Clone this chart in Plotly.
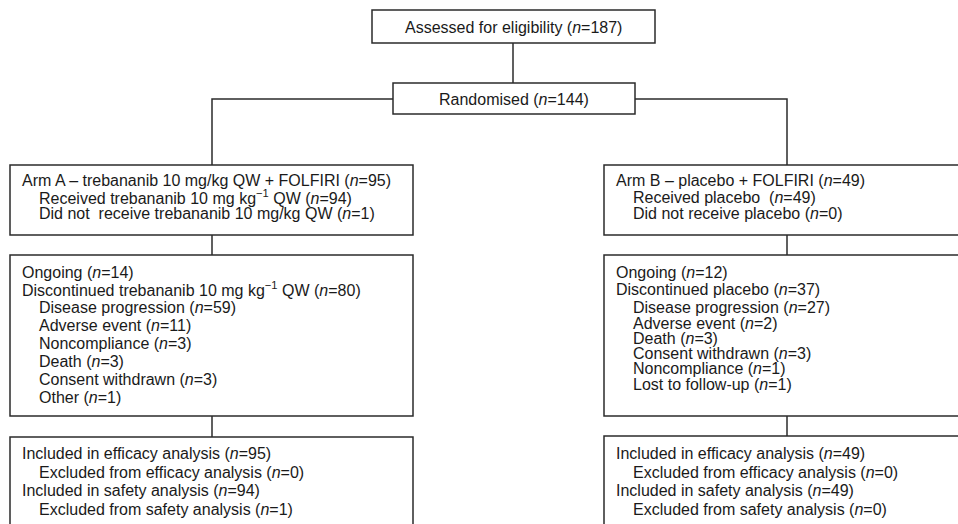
import plotly.graph_objects as go

# ---------------- data ----------------
assessed_label = "Assessed for eligibility"
assessed_n = 187
randomised_label = "Randomised"
randomised_n = 144

armA_alloc_labels = ["Arm A – trebananib 10 mg/kg QW + FOLFIRI",
                     "Received trebananib 10 mg kg<sup>−1</sup> QW",
                     "Did not&nbsp; receive trebananib 10 mg/kg QW"]
armA_alloc_n = [95, 94, 1]
armA_alloc_indent = [0, 1, 1]

armB_alloc_labels = ["Arm B – placebo + FOLFIRI",
                     "Received placebo&nbsp;",
                     "Did not receive placebo"]
armB_alloc_n = [49, 49, 0]
armB_alloc_indent = [0, 1, 1]

armA_follow_labels = ["Ongoing", "Discontinued trebananib 10 mg kg<sup>−1</sup> QW",
                      "Disease progression", "Adverse event", "Noncompliance",
                      "Death", "Consent withdrawn", "Other"]
armA_follow_n = [14, 80, 59, 11, 3, 3, 3, 1]
armA_follow_indent = [0, 0, 1, 1, 1, 1, 1, 1]

armB_follow_labels = ["Ongoing", "Discontinued placebo", "Disease progression",
                      "Adverse event", "Death", "Consent withdrawn",
                      "Noncompliance", "Lost to follow-up"]
armB_follow_n = [12, 37, 27, 2, 3, 3, 1, 1]
armB_follow_indent = [0, 0, 1, 1, 1, 1, 1, 1]

armA_anal_labels = ["Included in efficacy analysis", "Excluded from efficacy analysis",
                    "Included in safety analysis", "Excluded from safety analysis"]
armA_anal_n = [95, 0, 94, 1]
armA_anal_indent = [0, 1, 0, 1]

armB_anal_labels = ["Included in efficacy analysis", "Excluded from efficacy analysis",
                    "Included in safety analysis", "Excluded from safety analysis"]
armB_anal_n = [49, 0, 49, 0]
armB_anal_indent = [0, 1, 0, 1]

# ---------------- layout / style ----------------
W, H = 958, 524
LINE = dict(color="#2b2b2b", width=1.5)
FONT = dict(family="Liberation Sans, Arial, sans-serif", size=16, color="#1a1a1a")
INDENT_PX = 17


def fmt(label, n):
    return f"{label} (<i>n</i>={n})"


fig = go.Figure()
shapes = []
annotations = []


def box(x0, y0, x1, y1):
    shapes.append(dict(type="rect", xref="x", yref="y", x0=x0, y0=y0, x1=x1, y1=y1,
                       line=LINE, fillcolor="rgba(0,0,0,0)", layer="above"))


def path(d):
    shapes.append(dict(type="path", xref="x", yref="y", path=d, line=LINE, layer="above"))


def text(x, y, s, anchor="left"):
    annotations.append(dict(x=x, y=y, xref="x", yref="y", text=s, showarrow=False,
                            xanchor=anchor, yanchor="middle", font=FONT, align="left",
                            borderpad=0, borderwidth=0))


def block(x, ys, labels, ns, indents):
    for y, lab, n, ind in zip(ys, labels, ns, indents):
        text(x + ind * INDENT_PX, y, fmt(lab, n))


# top boxes
box(372, 10, 655, 43)
text(513.5, 27, fmt(assessed_label, assessed_n), anchor="center")
path("M513,43 V83")
box(393, 83, 635, 114)
text(514, 99, fmt(randomised_label, randomised_n), anchor="center")

# branches
path("M393,99 H212 V165")
path("M635,99 H787 V165")

# allocation boxes
box(10, 165, 413, 235)
box(604, 165, 990, 235)
alloc_y = [180, 197, 213]
block(22, alloc_y, armA_alloc_labels, armA_alloc_n, armA_alloc_indent)
block(616, alloc_y, armB_alloc_labels, armB_alloc_n, armB_alloc_indent)

# connectors
path("M212,235 V255")
path("M787,235 V255")

# follow-up boxes
box(10, 255, 413, 416)
box(604, 255, 990, 416)
followA_y = [272, 289, 307, 325, 343, 361, 379, 397]
followB_y = [272, 289, 307, 323, 338, 353, 368, 384]
block(22, followA_y, armA_follow_labels, armA_follow_n, armA_follow_indent)
block(616, followB_y, armB_follow_labels, armB_follow_n, armB_follow_indent)

# connectors
path("M212,416 V437")
path("M787,416 V436")

# analysis boxes (cut off at bottom)
box(10, 437, 413, 560)
box(604, 436, 990, 560)
anal_y = [453, 472, 490, 509]
block(22, anal_y, armA_anal_labels, armA_anal_n, armA_anal_indent)
block(616, anal_y, armB_anal_labels, armB_anal_n, armB_anal_indent)

fig.update_layout(
    width=W, height=H,
    margin=dict(l=0, r=0, t=0, b=0),
    paper_bgcolor="white", plot_bgcolor="white",
    xaxis=dict(range=[0, W], visible=False, fixedrange=True),
    yaxis=dict(range=[H, 0], visible=False, fixedrange=True),
    shapes=shapes, annotations=annotations,
    showlegend=False,
)

fig.write_html(
    "out.html",
    config={"displayModeBar": False},
    post_script="document.body.style.margin='0';document.body.style.overflow='hidden';",
)
